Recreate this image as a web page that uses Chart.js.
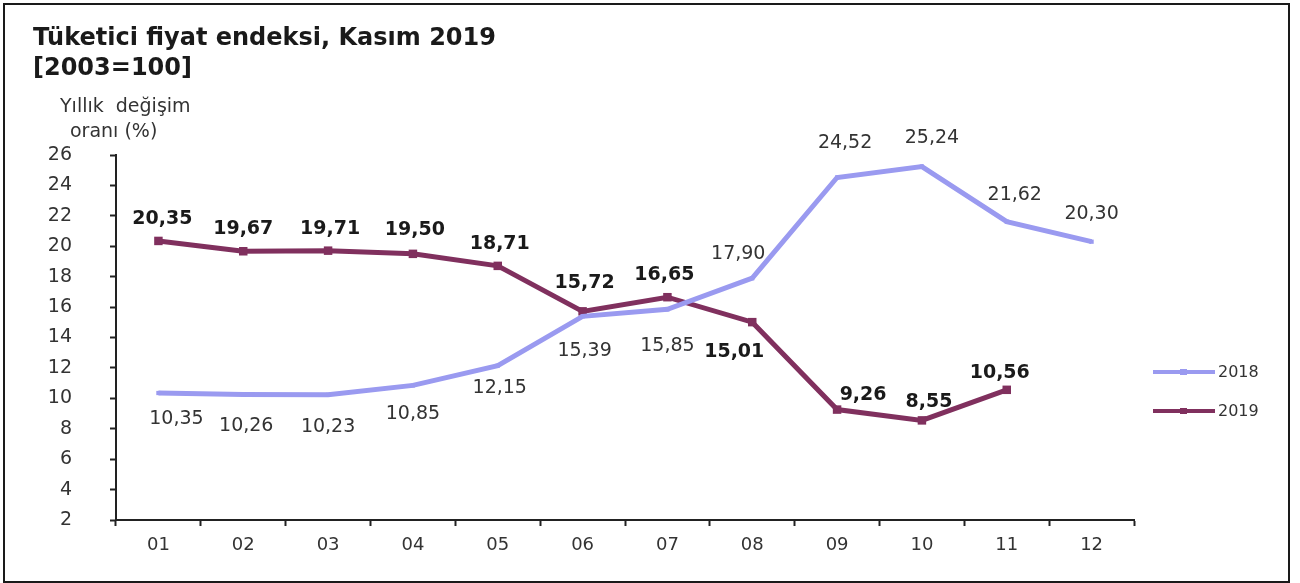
<!DOCTYPE html>
<html lang="tr">
<head>
<meta charset="UTF-8">
<title>Tüketici fiyat endeksi, Kasım 2019</title>
<script src="https://cdn.jsdelivr.net/npm/chart.js@4.4.0/dist/chart.umd.min.js"></script>
<style>
    html, body { margin: 0; padding: 0; background: #fff; }
    #wrap { position: relative; width: 1300px; height: 583px; }
    #frame {
        position: absolute; left: 3px; top: 3px; width: 1283px; height: 576px;
        border: 2px solid #1a1a1a; pointer-events: none;
    }
</style>
</head>
<body>
<div id="wrap">
    <canvas id="cpiChart" width="1300" height="583"></canvas>
    <div id="frame"></div>
</div>
<script>
// 月（カテゴリ）
const months = ['01', '02', '03', '04', '05', '06', '07', '08', '09', '10', '11', '12'];

// 年間変化率 (%)
const values2018 = [10.35, 10.26, 10.23, 10.85, 12.15, 15.39, 15.85, 17.90, 24.52, 25.24, 21.62, 20.30];
const values2019 = [20.35, 19.67, 19.71, 19.50, 18.71, 15.72, 16.65, 15.01, 9.26, 8.55, 10.56, null];

// 目盛り
const yTicks = [2, 4, 6, 8, 10, 12, 14, 16, 18, 20, 22, 24, 26];

const seriesNames = ['2018', '2019'];

const COLOR_2018 = '#9a9af0';
const COLOR_2019 = '#80305e';
const FONT = '"DejaVu Sans", sans-serif';

// ラベル位置（点からのずれ dx, dy）
const labelShift2018 = [[18, 26], [3, 32], [0, 32], [0, 29], [2, 22], [2, 35], [0, 37], [-14, -24],
                        [8, -34], [10, -28], [8, -27], [0, -28]];
const labelShift2019 = [[4, -22], [0, -22], [2, -22], [2, -24], [2, -22], [2, -28], [-3, -22], [-18, 30],
                        [26, -15], [7, -18], [-7, -17]];

// 数値の表示形式（小数点はカンマ）
function fmt(v) {
    return v.toFixed(2).replace('.', ',');
}

// タイトル・軸タイトル・凡例・データラベル
const annotations = {
    id: 'annotations',
    afterDatasetsDraw(chart) {
        const ctx = chart.ctx;
        ctx.save();

        // タイトル
        ctx.fillStyle = '#1a1a1a';
        ctx.textAlign = 'left';
        ctx.textBaseline = 'alphabetic';
        ctx.font = 'bold 24px ' + FONT;
        ctx.fillText('Tüketici fiyat endeksi, Kasım 2019', 33, 45);
        ctx.fillText('[2003=100]', 33, 75);

        // 軸タイトル
        ctx.fillStyle = '#333';
        ctx.font = '19px ' + FONT;
        ctx.fillText('Yıllık  değişim', 60, 112);
        ctx.fillText('oranı (%)', 70, 137);

        // データラベル
        const drawLabels = (dsIndex, values, shifts, bold) => {
            const meta = chart.getDatasetMeta(dsIndex);
            ctx.font = (bold ? 'bold ' : '') + '19px ' + FONT;
            ctx.fillStyle = bold ? '#1a1a1a' : '#333';
            ctx.textAlign = 'center';
            ctx.textBaseline = 'middle';
            values.forEach((v, i) => {
                if (v === null) return;
                const pt = meta.data[i];
                const s = shifts[i];
                ctx.fillText(fmt(v), pt.x + s[0], pt.y + s[1]);
            });
        };
        drawLabels(0, values2018, labelShift2018, false);
        drawLabels(1, values2019, labelShift2019, true);

        // 凡例
        const legendRows = [
            { name: seriesNames[0], color: COLOR_2018, y: 372 },
            { name: seriesNames[1], color: COLOR_2019, y: 411 }
        ];
        legendRows.forEach(row => {
            ctx.strokeStyle = row.color;
            ctx.lineWidth = 4;
            ctx.beginPath();
            ctx.moveTo(1153, row.y);
            ctx.lineTo(1215, row.y);
            ctx.stroke();
            ctx.fillStyle = row.color;
            ctx.fillRect(1180, row.y - 3, 7, 6);
            ctx.fillStyle = '#333';
            ctx.font = '16px ' + FONT;
            ctx.textAlign = 'left';
            ctx.textBaseline = 'middle';
            ctx.fillText(row.name, 1218, row.y + 1);
        });

        ctx.restore();
    }
};

// グラフ作成
function createChart() {
    const ctx = document.getElementById('cpiChart').getContext('2d');
    new Chart(ctx, {
        type: 'line',
        data: {
            labels: months,
            datasets: [{
                label: seriesNames[0],
                data: values2018,
                borderColor: COLOR_2018,
                backgroundColor: COLOR_2018,
                borderWidth: 5,
                pointStyle: 'rect',
                pointRadius: 3,
                pointBorderWidth: 0,
                tension: 0
            }, {
                label: seriesNames[1],
                data: values2019,
                borderColor: COLOR_2019,
                backgroundColor: COLOR_2019,
                borderWidth: 5,
                pointStyle: 'rect',
                pointRadius: 6,
                pointBorderWidth: 0,
                tension: 0
            }]
        },
        options: {
            responsive: false,
            animation: false,
            layout: { padding: { left: 0, right: 166, top: 155, bottom: 0 } },
            scales: {
                x: {
                    type: 'category',
                    offset: true,
                    grid: {
                        offset: true,
                        drawOnChartArea: false,
                        drawTicks: true,
                        tickLength: 6,
                        tickWidth: 2,
                        tickColor: '#222'
                    },
                    border: { color: '#222', width: 2 },
                    ticks: {
                        color: '#333',
                        font: { family: FONT, size: 18 },
                        padding: 9,
                        maxRotation: 0
                    },
                    afterFit(scale) { scale.height = 63; }
                },
                y: {
                    min: 2,
                    max: 26,
                    afterBuildTicks(scale) {
                        scale.ticks = yTicks.map(v => ({ value: v }));
                    },
                    grid: {
                        drawOnChartArea: false,
                        drawTicks: true,
                        tickLength: 6,
                        tickWidth: 2,
                        tickColor: '#222'
                    },
                    border: { color: '#222', width: 2 },
                    ticks: {
                        color: '#333',
                        font: { family: FONT, size: 19 },
                        padding: 38
                    },
                    afterFit(scale) { scale.width = 116; }
                }
            },
            plugins: {
                legend: { display: false },
                title: { display: false },
                tooltip: { enabled: false }
            }
        },
        plugins: [annotations]
    });
}

document.addEventListener('DOMContentLoaded', createChart);
</script>
</body>
</html>
